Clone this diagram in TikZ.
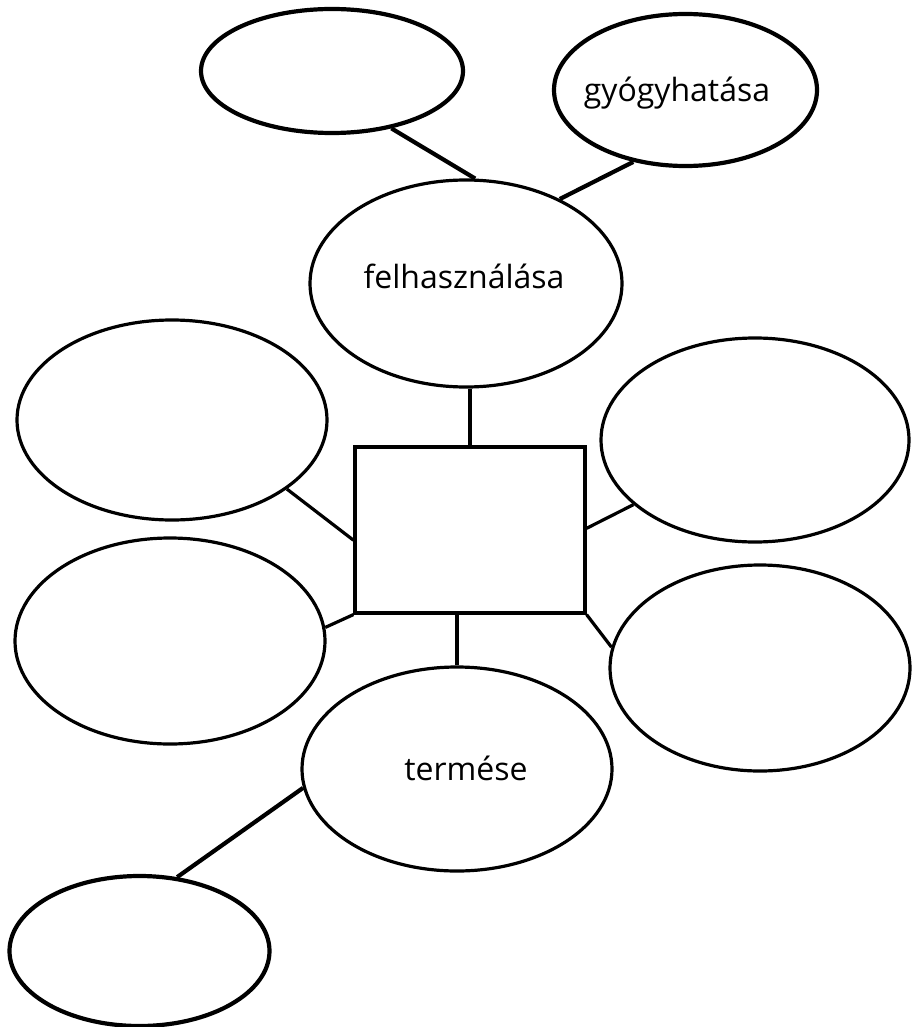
\documentclass[tikz,border=0pt]{standalone}
\usepackage{fontspec}
\setmainfont{Open Sans}
\usetikzlibrary{shapes.geometric,calc}
\tikzset{
  bub/.style={ellipse, draw, line width=3.2pt, inner sep=0pt},
  bubthick/.style={bub, line width=4.2pt},
  conn/.style={line width=3.2pt},
  connthick/.style={line width=4.2pt},
  lbl/.style={inner sep=0pt, font=\fontsize{32}{38}\selectfont},
}
\begin{document}
\begin{tikzpicture}[x=1pt,y=-1pt]
\useasboundingbox[fill=white] (0,0) rectangle (911,1027);
% nodes
\node[bubthick, minimum width=262, minimum height=124] (tl) at (332,71) {};
\node[bubthick, minimum width=263, minimum height=152] (gy) at (685.5,90) {};
\node[bub, minimum width=312, minimum height=207] (fe) at (466,283.5) {};
\node[bub, minimum width=310, minimum height=200] (lu) at (172,420) {};
\node[bub, minimum width=308, minimum height=204] (ru) at (755,440) {};
\node[bub, minimum width=310, minimum height=206] (ll) at (170,641) {};
\node[bub, minimum width=300, minimum height=206] (rl) at (760,668) {};
\node[bub, minimum width=310, minimum height=204] (te) at (457,769) {};
\node[bubthick, minimum width=260, minimum height=150] (bl) at (139.5,951) {};
\node[draw, line width=3.2pt, minimum width=230, minimum height=166, inner sep=0pt] (rect) at (470,530) {};
% labels
\node[lbl] (tgy) at (677,93) {gyógyhatása};
\node[lbl] (tfe) at (464,276) {felhasználása};
\node[lbl] (tte) at (466,768) {termése};
% connectors
\draw[connthick] (tl.-44.5) -- (fe.85);
\draw[connthick] (fe.42.6) -- (gy.-126.1);
\draw[conn] (rect.north) -- (rect.north |- fe.south);
\draw[conn] (lu.-31) -- ($(rect.north west)!0.56!(rect.south west)$);
\draw[conn] (ru.-152.3) -- ($(rect.north east)!0.49!(rect.south east)$);
\draw[conn] (ll.5.6) -- (rect.south west);
\draw[conn] (rl.172.3) -- (rect.south east);
\draw[conn] (te.north) -- (te.north |- rect.south);
\draw[connthick] (te.-173.9) -- (bl.63.4);
\end{tikzpicture}
\end{document}
